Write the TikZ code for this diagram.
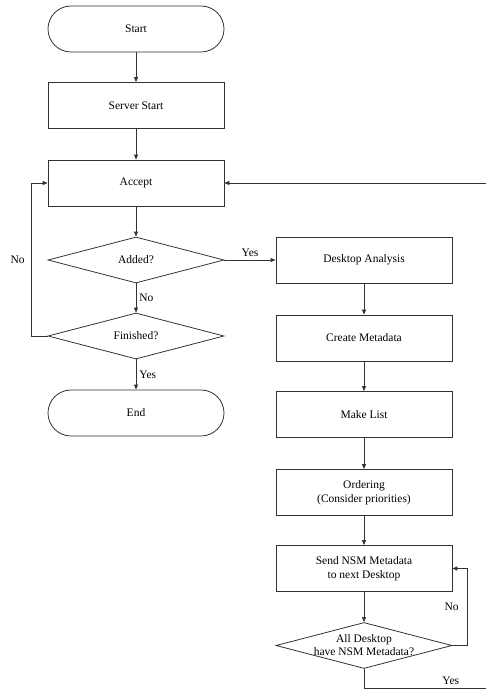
\documentclass[tikz,border=0pt]{standalone}
\usepackage{fontspec}
\setmainfont{Liberation Serif}
\usetikzlibrary{shapes.geometric,arrows.meta}
\begin{document}
\begin{tikzpicture}[x=1pt,y=-1pt, font=\fontsize{11.5}{14}\selectfont,
  line/.style={draw=black!80, line width=0.8pt},
  arr/.style={line, -{Triangle[length=5pt,width=4pt]}},
  proc/.style={line, rectangle, minimum width=176pt, minimum height=46pt, inner sep=0pt, align=center},
  term/.style={proc, rounded corners=23pt},
  dec/.style={line, diamond, minimum width=176pt, minimum height=46pt, inner sep=0pt, aspect=3.8},
  lab/.style={inner sep=3pt}]
\useasboundingbox (0,0) rectangle (485,690);
\node[term] (start) at (136,29) {Start};
\node[proc] (server) at (136,105.5) {Server Start};
\node[proc] (accept) at (136,183) {Accept};
\node[dec, label=center:Added?] (added) at (136,260) {};
\node[dec, label=center:Finished?] (fin) at (136,336) {};
\node[term] (end) at (136,413) {End};
\node[proc] (da) at (364,260) {Desktop Analysis};
\node[proc] (cm) at (364,338) {Create Metadata};
\node[proc] (ml) at (364,414.5) {Make List};
\node[proc] (ord) at (364,492.5) {Ordering\\(Consider priorities)};
\node[proc] (send) at (364,568.5) {Send NSM Metadata\\to next Desktop};
\node[dec, label={[align=center,font=\fontsize{11.5}{13}\selectfont]center:All Desktop\\have NSM Metadata?}] (all) at (364,645.5) {};
\coordinate (lb) at (31,336);
\coordinate (lt) at (31,183);
\coordinate (rb1) at (467,645.5);
\coordinate (rt1) at (467,568.5);
\coordinate (rb2) at (364,688);
\coordinate (rb3) at (488,688);
\coordinate (rt2) at (488,183);
\draw[arr] (start) -- (server);
\draw[arr] (server) -- (accept);
\draw[arr] (accept) -- (added);
\draw[arr] (added) -- node[lab, right]{No} (fin);
\draw[arr] (fin) -- node[lab, right]{Yes} (end);
\draw[arr] (fin.west) -- (lb) -- node[lab, left, inner sep=6pt]{No} (lt) -- (accept.west);
\draw[arr] (added.east) -- node[lab, above]{Yes} (da.west);
\draw[arr] (da) -- (cm);
\draw[arr] (cm) -- (ml);
\draw[arr] (ml) -- (ord);
\draw[arr] (ord) -- (send);
\draw[arr] (send) -- (all);
\draw[arr] (all.east) -- (rb1) -- node[lab, left, inner sep=8pt]{No} (rt1) -- (send.east);
\draw[arr] (all.south) -- (rb2) -- node[lab, above, pos=0.7]{Yes} (rb3) -- (rt2) -- (accept.east);
\end{tikzpicture}
\end{document}
